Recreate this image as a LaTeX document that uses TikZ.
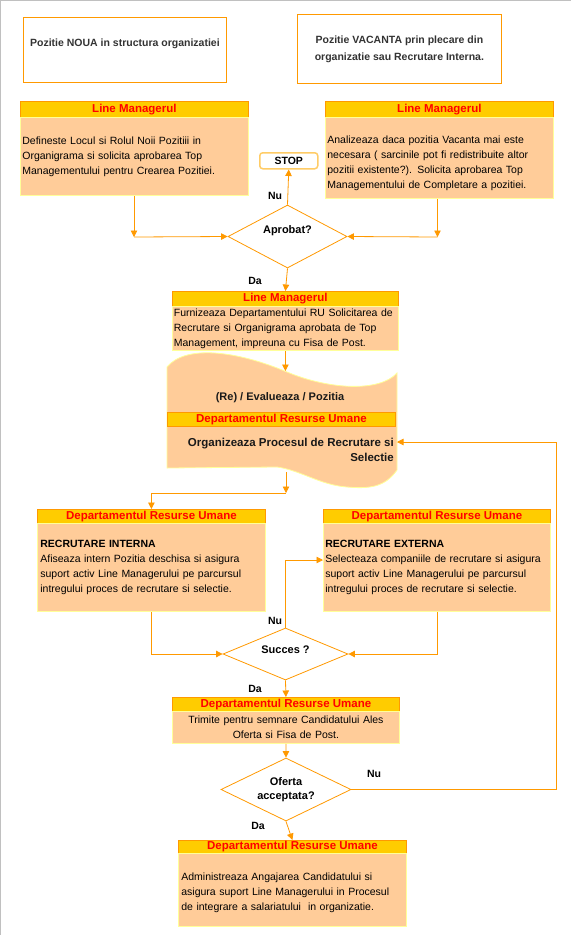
\documentclass[tikz,border=0pt]{standalone}
\usepackage{fontspec}
\setmainfont{Liberation Sans}
\usetikzlibrary{shapes.geometric,arrows.meta,calc}
\definecolor{hdrfill}{HTML}{FFCC00}
\definecolor{hdrdraw}{HTML}{FF9900}
\definecolor{bodyfill}{HTML}{FFCC99}
\definecolor{bodydraw}{HTML}{FFFF99}
\definecolor{conn}{HTML}{FF9900}
\definecolor{darktext}{HTML}{333333}
\definecolor{framegray}{HTML}{C0C0C0}
\definecolor{stopdraw}{HTML}{FFCC66}
\definecolor{hdrred}{HTML}{FF0000}
\begin{document}
\begin{tikzpicture}[x=1pt,y=-1pt,
 hdr/.style={draw=hdrdraw,fill=hdrfill,line width=0.8pt,anchor=north west,inner sep=0pt,text=hdrred,font=\fontsize{11.5}{13}\selectfont\bfseries},
 body/.style={draw=bodydraw,fill=bodyfill,line width=0.8pt,anchor=north west,inner xsep=2pt,inner ysep=0pt,font=\fontsize{10.5}{15}\selectfont,align=left},
 topbox/.style={draw=hdrdraw,fill=white,line width=0.8pt,anchor=north west,inner sep=0pt,align=center,text=darktext,font=\fontsize{10.5}{17}\selectfont\bfseries},
 dec/.style={diamond,draw=conn,fill=white,line width=0.8pt,inner sep=0pt,align=center,font=\fontsize{11}{14}\selectfont\bfseries},
 arr/.style={draw=conn,line width=0.8pt,-{Triangle[length=6.5pt,width=6.5pt]}},
 conline/.style={draw=conn,line width=0.8pt},
 lbl/.style={font=\fontsize{10.5}{12}\selectfont\bfseries,inner sep=0pt},
]
\useasboundingbox (0,0) rectangle (571,935);
\fill[white] (0,0) rectangle (571,935);
\draw[framegray,line width=1pt] (0.5,935) -- (0.5,0.5) -- (571,0.5);

% top boxes
\node[topbox,minimum width=203,minimum height=65,text depth=15pt] (new) at (23,17) {Pozitie NOUA in structura organizatiei};
\node[topbox,minimum width=204,minimum height=69] (vac) at (297,14) {Pozitie VACANTA prin plecare din\\organizatie sau Recrutare Interna.};

% Line Managerul boxes
\node[hdr,minimum width=228,minimum height=16] (lm1h) at (20,101) {Line Managerul};
\node[body,minimum width=228,minimum height=78,text width=224] (lm1b) at (20,117) {Defineste Locul si Rolul Noii Pozitiii in\\Organigrama si solicita aprobarea Top\\Managementului pentru Crearea Pozitiei.};
\node[hdr,minimum width=228,minimum height=16] (lm2h) at (325,101) {Line Managerul};
\node[body,minimum width=228,minimum height=81,text width=224,text height=18pt] (lm2b) at (325,117) {Analizeaza daca pozitia Vacanta mai este\\necesara ( sarcinile pot fi redistribuite altor\\pozitii existente?). Solicita aprobarea Top\\Managementului de Completare a pozitiei.};

\node[draw=stopdraw,line width=1.5pt,rounded corners=3pt,fill=white,minimum width=58,minimum height=16,inner sep=0pt,anchor=north west,font=\fontsize{10.5}{12}\selectfont\bfseries] (stop) at (259,152) {STOP};

\node[dec,minimum width=119,minimum height=63,shape aspect=1.9,text depth=14pt] (d1) at (287.5,236.5) {Aprobat?};

\coordinate (c1) at (134,237);
\coordinate (c2) at (437.5,237);
\draw[arr] (lm1b.south -| c1) -- (c1);
\draw[arr] (c1) -- (d1.west);
\draw[arr] (lm2b.south -| c2) -- (c2);
\draw[arr] (c2) -- (d1.east);
\draw[arr] (d1.north) -- (stop.south);
\node[lbl] (nu1) at (275,196) {Nu};

\node[hdr,minimum width=226,minimum height=15] (lm3h) at (172,291) {Line Managerul};
\node[body,minimum width=226,minimum height=44,text width=223,inner xsep=1.5pt] (lm3b) at (172,306) {Furnizeaza Departamentului RU Solicitarea de\\Recrutare si Organigrama aprobata de Top\\Management, impreuna cu Fisa de Post.};
\draw[arr] (d1.south) -- (lm3h.north);
\node[lbl] (da1) at (255,281) {Da};

% wave shape
\path[draw=bodydraw,fill=bodyfill,line width=0.8pt] (167,367) .. controls (185,345) and (235,350) .. (287,372) .. controls (330,390) and (380,392) .. (397,373) -- (397,470) .. controls (385,487) and (370,489) .. (347,487) .. controls (320,485) and (300,470) .. (277,467) -- (167,468) -- cycle;
\coordinate (wtop) at (287,371);
\coordinate (wbot) at (286,472);
\node[font=\fontsize{11}{14}\selectfont\bfseries,text=black!90,inner sep=0pt] (rev) at (280,398) {(Re) / Evalueaza / Pozitia};
\node[hdr,minimum width=228,minimum height=14] (dru0h) at (167,412) {Departamentul Resurse Umane};
\node[font=\fontsize{11.5}{15}\selectfont\bfseries,text=black!90,align=right,anchor=north east,inner sep=0pt] (org) at (394,438) {Organizeaza Procesul de Recrutare si\\Selectie};
\coordinate (orgend) at (397,442);
\draw[arr] (lm3b.south) -- (lm3b.south |- wtop);

% recruiting boxes
\node[hdr,minimum width=228,minimum height=14] (druLh) at (37,509) {Departamentul Resurse Umane};
\node[body,minimum width=228,minimum height=88,text width=222,inner xsep=3pt] (druLb) at (37,523) {\textbf{RECRUTARE INTERNA}\\Afiseaza intern Pozitia deschisa si asigura\\suport activ Line Managerului pe parcursul\\intregului proces de recrutare si selectie.};
\node[hdr,minimum width=227,minimum height=14] (druRh) at (323,509) {Departamentul Resurse Umane};
\node[body,minimum width=227,minimum height=88,text width=223] (druRb) at (323,523) {\textbf{RECRUTARE EXTERNA}\\Selecteaza companiile de recrutare si asigura\\suport activ Line Managerului pe parcursul\\intregului proces de recrutare si selectie.};

\coordinate (c3) at (286,493);
\draw[arr] (wbot) -- (c3);
\draw[arr] (c3) -| (druLh.north);

\node[dec,minimum width=125,minimum height=52,shape aspect=2.4,text depth=9.5pt] (d2) at (285.5,654) {Succes ?};
\draw[arr] (druLb.south) |- (d2.west);
\draw[arr] (druRb.south) |- (d2.east);
\coordinate (e2) at (323,560);
\draw[arr] (d2.north) |- (e2);
\node[lbl] (nu2) at (275,621) {Nu};

\node[hdr,minimum width=227,minimum height=14] (dru3h) at (172,697) {Departamentul Resurse Umane};
\node[body,minimum width=227,minimum height=32,text width=223,align=center] (dru3b) at (172,711) {Trimite pentru semnare Candidatului Ales\\Oferta si Fisa de Post.};
\draw[arr] (d2.south) -- (dru3h.north);
\node[lbl] (da2) at (255,689) {Da};

\node[dec,minimum width=130,minimum height=63,shape aspect=2] (d3) at (286,789.5) {Oferta\\acceptata?};
\draw[arr] (dru3b.south) -- (d3.north);
\coordinate (r1) at (556,442);
\draw[arr] (d3.east) -| (r1) -- (orgend);
\node[lbl] (nu3) at (374,774) {Nu};

\node[hdr,minimum width=228,minimum height=13] (dru4h) at (178,840) {Departamentul Resurse Umane};
\node[body,minimum width=228,minimum height=73,text width=222,inner xsep=3pt,text height=13pt] (dru4b) at (178,853) {Administreaza Angajarea Candidatului si\\asigura suport Line Managerului in Procesul\\de integrare a salariatului\ \ in organizatie.};
\draw[arr] (d3.south) -- (dru4h.north);
\node[lbl] (da3) at (258,826) {Da};
\end{tikzpicture}
\end{document}
